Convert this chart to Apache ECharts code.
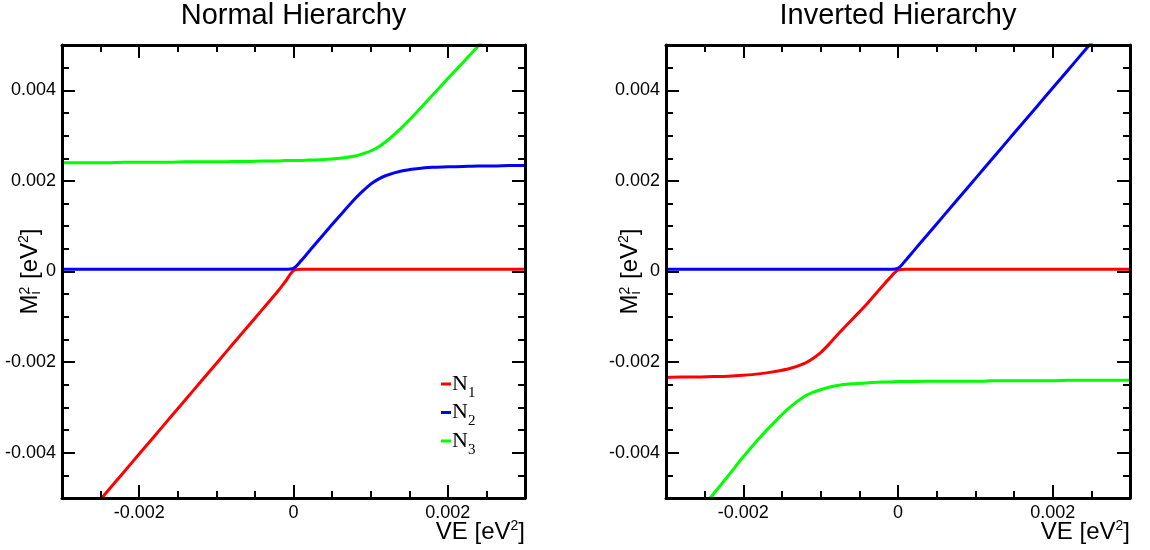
<!DOCTYPE html>
<html>
<head>
<meta charset="utf-8">
<script src="https://cdn.jsdelivr.net/npm/echarts@6/dist/echarts.min.js"></script>
<style>
  html, body { margin: 0; padding: 0; background: #ffffff; }
  #chart { width: 1150px; height: 550px; }
</style>
</head>
<body>
<div id="chart"></div>
<script>
// VE values (eV^2) at which the mass-squared eigenvalues are sampled
const VE = [-0.003, -0.0028, -0.0026, -0.0024, -0.0022, -0.002, -0.0018, -0.0016, -0.0014, -0.0012,
            -0.0011, -0.001, -0.0009, -0.0008, -0.0006, -0.0004, -0.0002, -0.0001, 0, 0.0001,
            0.0002, 0.0004, 0.0006, 0.0008, 0.0009, 0.001, 0.0011, 0.0012, 0.0014, 0.0016,
            0.0018, 0.002, 0.0022, 0.0024, 0.0026, 0.0028, 0.003];

// Normal hierarchy eigenvalues M_i^2 (eV^2)
const normalN1 = [null, null, -0.00523, -0.00483, -0.00443, -0.00403, -0.00363, -0.00323, -0.00283, -0.00243,
                  -0.00223, -0.00203, -0.00183, -0.00163, -0.00123, -0.00083, -0.00043, -0.00021, 0.00002, 0.00005,
                  0.00005, 0.00005, 0.00005, 0.00005, 0.00005, 0.00005, 0.00005, 0.00005, 0.00005, 0.00005,
                  0.00005, 0.00005, 0.00005, 0.00005, 0.00005, 0.00005, 0.00005];
const normalN2 = [0.00005, 0.00005, 0.00005, 0.00005, 0.00005, 0.00005, 0.00005, 0.00005, 0.00005, 0.00005,
                  0.00005, 0.00005, 0.00005, 0.00005, 0.00005, 0.00005, 0.00005, 0.00005, 0.00007, 0.00024,
                  0.00044, 0.00084, 0.00123, 0.00161, 0.00178, 0.00193, 0.00204, 0.00212, 0.00222, 0.00227,
                  0.0023, 0.00231, 0.00232, 0.00233, 0.00233, 0.00234, 0.00234];
const normalN3 = [0.0024, 0.0024, 0.0024, 0.0024, 0.00241, 0.00241, 0.00241, 0.00241, 0.00242, 0.00242,
                  0.00242, 0.00242, 0.00242, 0.00243, 0.00243, 0.00244, 0.00244, 0.00245, 0.00245, 0.00245,
                  0.00246, 0.00247, 0.0025, 0.00255, 0.0026, 0.00266, 0.00275, 0.00287, 0.00317, 0.00352,
                  0.00389, 0.00426, 0.00462, 0.00499, 0.00536, null, null];

// Inverted hierarchy eigenvalues M_i^2 (eV^2)
const invertedN1 = [-0.00234, -0.00233, -0.00233, -0.00232, -0.00231, -0.00229, -0.00226, -0.00221, -0.00214, -0.00202,
                    -0.00192, -0.00179, -0.00162, -0.00143, -0.00107, -0.00071, -0.00032, -0.00013, 0.00003, 0.00005,
                    0.00005, 0.00005, 0.00005, 0.00005, 0.00005, 0.00005, 0.00005, 0.00005, 0.00005, 0.00005,
                    0.00005, 0.00005, 0.00005, 0.00005, 0.00005, 0.00005, 0.00005];
const invertedN2 = [0.00005, 0.00005, 0.00005, 0.00005, 0.00005, 0.00005, 0.00005, 0.00005, 0.00005, 0.00005,
                    0.00005, 0.00005, 0.00005, 0.00005, 0.00005, 0.00005, 0.00005, 0.00005, 0.00007, 0.00025,
                    0.00045, 0.00085, 0.00125, 0.00165, 0.00185, 0.00205, 0.00225, 0.00245, 0.00285, 0.00325,
                    0.00365, 0.00405, 0.00445, 0.00485, 0.00525, null, null];
const invertedN3 = [null, null, -0.00535, -0.00494, -0.00452, -0.00409, -0.00369, -0.00333, -0.003, -0.00275,
                    -0.00267, -0.00261, -0.00256, -0.00252, -0.00248, -0.00246, -0.00244, -0.00244, -0.00243, -0.00243,
                    -0.00243, -0.00242, -0.00242, -0.00242, -0.00242, -0.00242, -0.00242, -0.00241, -0.00241, -0.00241,
                    -0.00241, -0.00241, -0.0024, -0.0024, -0.0024, -0.0024, -0.0024];

const panelTitles = ['Normal Hierarchy', 'Inverted Hierarchy'];
const seriesNames = ['N1', 'N2', 'N3'];
const seriesColors = ['#ff0000', '#0000ff', '#00ff00'];
const xTickValues = [-0.002, 0, 0.002];
const xTickLabels = ['-0.002', '0', '0.002'];
const yTickValues = [-0.004, -0.002, 0, 0.002, 0.004];
const yTickLabels = ['-0.004', '-0.002', '0', '0.002', '0.004'];

const panels = [
  { title: panelTitles[0], curves: [normalN1, normalN2, normalN3] },
  { title: panelTitles[1], curves: [invertedN1, invertedN2, invertedN3] }
];

const SANS = '"Liberation Sans", Arial, Helvetica, sans-serif';
const SERIF = '"Liberation Serif", "Times New Roman", serif';

const grids = [
  { left: 62, top: 45, width: 463, height: 453 },
  { left: 666, top: 45, width: 464, height: 453 }
];
const yTitleOffsets = [32, 36];

function labelFor(values, labels) {
  return function (v) {
    let best = 0;
    for (let i = 1; i < values.length; i++) {
      if (Math.abs(values[i] - v) < Math.abs(values[best] - v)) best = i;
    }
    return labels[best];
  };
}

const measureCtx = document.createElement('canvas').getContext('2d');
function textWidth(t, font) {
  measureCtx.font = font;
  return measureCtx.measureText(t).width;
}

function frameAxis(kind, g, pos, major, withLabel) {
  const isX = kind === 'x';
  const ax = {
    type: 'value',
    gridIndex: g,
    position: pos,
    min: isX ? -0.003 : -0.005,
    max: isX ? 0.003 : 0.005,
    axisLine: { show: major, onZero: false, lineStyle: { color: '#000', width: 3 } },
    axisTick: { show: true, inside: true, length: major ? 13 : 7, lineStyle: { color: '#000', width: 2 } },
    axisLabel: { show: false },
    splitLine: { show: false },
    minorTick: { show: false },
    z: 5
  };
  if (major) {
    ax.axisTick.customValues = isX ? xTickValues : yTickValues;
  } else {
    ax.interval = 0.0005;
  }
  if (withLabel) {
    ax.axisLabel = {
      show: true,
      customValues: isX ? xTickValues : yTickValues,
      formatter: isX ? labelFor(xTickValues, xTickLabels) : labelFor(yTickValues, yTickLabels),
      color: '#000',
      fontSize: 18,
      fontFamily: SANS,
      margin: 6
    };
  }
  return ax;
}

const xAxes = [], yAxes = [], series = [];
panels.forEach((p, g) => {
  const xMain = xAxes.length;
  xAxes.push(frameAxis('x', g, 'bottom', true, true));
  xAxes.push(frameAxis('x', g, 'bottom', false, false));
  xAxes.push(frameAxis('x', g, 'top', true, false));
  xAxes.push(frameAxis('x', g, 'top', false, false));
  const yMain = yAxes.length;
  yAxes.push(frameAxis('y', g, 'left', true, true));
  yAxes.push(frameAxis('y', g, 'left', false, false));
  yAxes.push(frameAxis('y', g, 'right', true, false));
  yAxes.push(frameAxis('y', g, 'right', false, false));
  p.curves.forEach((ys, k) => {
    series.push({
      name: seriesNames[k],
      type: 'line',
      xAxisIndex: xMain,
      yAxisIndex: yMain,
      data: VE.map((x, i) => [x, ys[i]]),
      connectNulls: false,
      showSymbol: false,
      symbol: 'none',
      smooth: 0.3,
      clip: true,
      lineStyle: { color: seriesColors[k], width: 3 },
      itemStyle: { color: seriesColors[k] },
      z: 2
    });
  });
});

// ---- text decorations: panel titles, axis titles with super/subscripts, legend ----
const graphics = [];
const TITLE_FONT = '29px ' + SANS;
const AXIS_FONT = '24px ' + SANS;
const SMALL_FONT = '14px ' + SANS;

function txt(t, x, y, font, align) {
  return {
    type: 'text',
    x: x, y: y,
    style: { text: t, font: font, fill: '#000', align: align || 'left', verticalAlign: 'middle' },
    silent: true
  };
}

grids.forEach((gr, g) => {
  const cx = gr.left + gr.width / 2;
  graphics.push(txt(panelTitles[g], cx, 16, TITLE_FONT, 'center'));

  // x-axis title: VE [eV^2], right-aligned to the frame
  const right = gr.left + gr.width;
  const wA = textWidth('VE [eV', AXIS_FONT), wS = textWidth('2', SMALL_FONT), wB = textWidth(']', AXIS_FONT);
  const x0 = right - (wA + wS + wB);
  const yT = 532;
  graphics.push(txt('VE [eV', x0, yT, AXIS_FONT));
  graphics.push(txt('2', x0 + wA, yT - 6, SMALL_FONT));
  graphics.push(txt(']', x0 + wA + wS, yT, AXIS_FONT));

  // y-axis title: M_i^2 [eV^2], rotated, centred on the frame
  const wM = textWidth('M', AXIS_FONT);
  const wStack = Math.max(textWidth('2', SMALL_FONT), textWidth('i', SMALL_FONT)) + 1;
  const wR = textWidth(' [eV', AXIS_FONT);
  const total = wM + wStack + wR + wS + wB;
  let lx = -total / 2;
  const kids = [];
  kids.push(txt('M', lx, 0, AXIS_FONT)); lx += wM;
  kids.push(txt('2', lx, -5, SMALL_FONT));
  kids.push(txt('i', lx, 6, SMALL_FONT)); lx += wStack;
  kids.push(txt(' [eV', lx, 0, AXIS_FONT)); lx += wR;
  kids.push(txt('2', lx, -6, SMALL_FONT)); lx += wS;
  kids.push(txt(']', lx, 0, AXIS_FONT));
  graphics.push({
    type: 'group',
    x: gr.left - yTitleOffsets[g], y: gr.top + gr.height / 2,
    rotation: Math.PI / 2,
    children: kids
  });
});

// legend in the first panel
const LEG_N = '22px ' + SERIF, LEG_SUB = '15px ' + SERIF;
const wN = textWidth('N', LEG_N);
seriesNames.forEach((name, k) => {
  const y = 384 + k * 28.5;
  graphics.push({
    type: 'rect',
    shape: { x: 441, y: y - 1.5, width: 10, height: 3 },
    style: { fill: seriesColors[k] },
    silent: true
  });
  graphics.push(txt(name.charAt(0), 452, y, LEG_N));
  graphics.push(txt(name.slice(1), 452 + wN, y + 9, LEG_SUB));
});

const chart = echarts.init(document.getElementById('chart'), null, { renderer: 'canvas' });
chart.setOption({
  backgroundColor: '#ffffff',
  animation: false,
  grid: grids.map(g => Object.assign({ containLabel: false }, g)),
  xAxis: xAxes,
  yAxis: yAxes,
  series: series,
  graphic: graphics
});
</script>
</body>
</html>
